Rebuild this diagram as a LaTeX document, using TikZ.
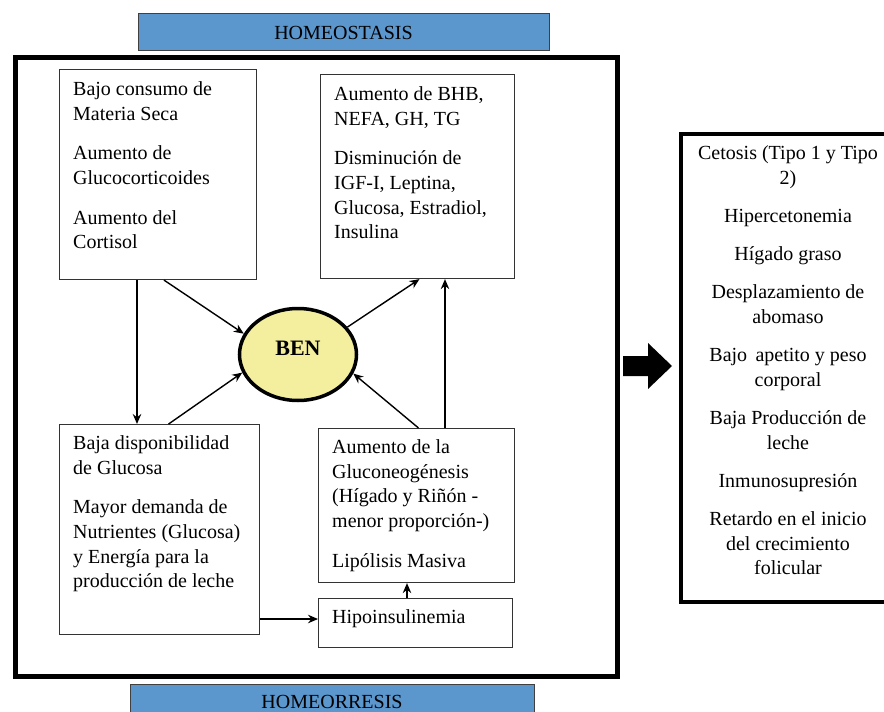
\documentclass[tikz,border=0pt]{standalone}
\usepackage{fontspec}
\setmainfont{Liberation Serif}
\usetikzlibrary{arrows.meta,shapes.geometric,calc}
\definecolor{barblue}{HTML}{5B96CC}
\definecolor{benyellow}{HTML}{F4EF9E}
\begin{document}
\begin{tikzpicture}[x=1pt,y=-1pt,
  box/.style={draw=black!80,line width=1.1pt,fill=white,inner sep=0pt,anchor=north west},
  txt/.style={inner sep=0pt,anchor=north west,align=left,font=\fontsize{20}{24.7}\selectfont},
  ctxt/.style={inner sep=0pt,anchor=north,align=center,font=\fontsize{20}{24.7}\selectfont},
  lbl/.style={inner sep=0pt,anchor=base,font=\fontsize{20}{24}\selectfont},
  arr/.style={line width=1.4pt,-{Stealth[length=10pt,width=8.5pt]}},
  bar/.style={draw=black!75,line width=1.2pt,fill=barblue,inner sep=0pt,anchor=north west}]
\useasboundingbox (0,0) rectangle (884,712);
\clip (0,0) rectangle (884,712);

% bars
\node[bar,minimum width=411pt,minimum height=37pt] (topbar) at (138,13) {};
\node[lbl] (toplbl) at (343.5,39) {HOMEOSTASIS};
\node[bar,minimum width=404pt,minimum height=40pt] (botbar) at (130,684) {};
\node[lbl] (botlbl) at (332,708.5) {HOMEORRESIS};

% outer frame
\node[draw,line width=5pt,inner sep=0pt,anchor=north west,minimum width=602pt,minimum height=618.5pt] (frame) at (12.5,55) {};

% boxes
\node[box,minimum width=197pt,minimum height=210pt] (b1) at (59,69) {};
\node[txt] (t1) at (73,81.3) {Bajo consumo de\\Materia Seca\\[15pt]Aumento de\\Glucocorticoides\\[15pt]Aumento del\\Cortisol};

\node[box,minimum width=194pt,minimum height=204pt] (b2) at (320,74) {};
\node[txt] (t2) at (334,86.3) {Aumento de BHB,\\NEFA, GH, TG\\[15pt]Disminución de\\IGF-I, Leptina,\\Glucosa, Estradiol,\\Insulina};

\node[box,minimum width=200pt,minimum height=210pt] (b3) at (59,424) {};
\node[txt] (t3) at (73,435.3) {Baja disponibilidad\\de Glucosa\\[15pt]Mayor demanda de\\Nutrientes (Glucosa)\\y Energía para la\\producción de leche};

\node[box,minimum width=196pt,minimum height=154pt] (b4) at (318,428) {};
\node[txt] (t4) at (332,439.3) {Aumento de la\\Gluconeogénesis\\(Hígado y Riñón -\\menor proporción-)\\[15pt]Lipólisis Masiva};

\node[box,minimum width=194pt,minimum height=49pt] (b5) at (318,598) {};
\node[txt] (t5) at (332,609.3) {Hipoinsulinemia};

% BEN
\node[ellipse,draw,line width=3.5pt,fill=benyellow,minimum width=117pt,minimum height=92pt,
  font=\bfseries\fontsize{22}{26}\selectfont,text depth=12pt] (ben) at (298,354.5) {BEN};

% right box
\node[draw,line width=4pt,inner sep=0pt,anchor=north west,minimum width=230pt,minimum height=468pt] (rbox) at (679,132) {};
\node[ctxt] (rt) at (788,145.3) {Cetosis (Tipo 1 y Tipo\\2)\\[13.5pt]Hipercetonemia\\[13.5pt]Hígado graso\\[13.5pt]Desplazamiento de\\abomaso\\[13.5pt]Bajo\, apetito y peso\\corporal\\[13.5pt]Baja Producción de\\leche\\[13.5pt]Inmunosupresión\\[13.5pt]Retardo en el inicio\\del crecimiento\\folicular};

% big arrow
\fill[black] (623,356) -- (648,356) -- (648,343) -- (672,366) -- (648,389) -- (648,376) -- (623,376) -- cycle;

% connectors
\coordinate (vx) at (445,0);
\coordinate (hy) at (0,619);
\coordinate (lx) at (137,0);
\coordinate (ux) at (407,0);
\draw[arr] ($(b1.south west)!0.53!(b1.south east)$) -- (ben.159);
\draw[arr] (ben.29) -- ($(b2.south west)!0.51!(b2.south east)$);
\draw[arr] (b4.north -| vx) -- (b2.south -| vx);
\draw[arr] ($(b3.north west)!0.545!(b3.north east)$) -- (ben.198);
\draw[arr] ($(b4.north west)!0.51!(b4.north east)$) -- (ben.341);
\draw[arr] (b1.south -| lx) -- (b3.north -| lx);
\draw[arr] (b3.east |- hy) -- (b5.west |- hy);
\draw[arr] (b5.north -| ux) -- (b4.south -| ux);
\end{tikzpicture}
\end{document}
